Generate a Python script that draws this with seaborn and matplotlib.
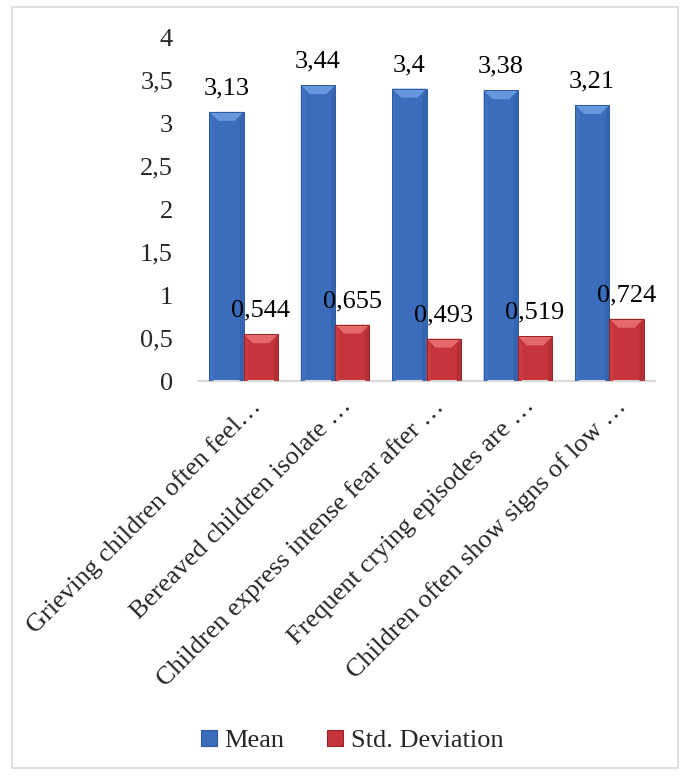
import matplotlib
matplotlib.use("Agg")
import matplotlib.pyplot as plt
import matplotlib.transforms as mtransforms
import seaborn as sns
import pandas as pd
from matplotlib.patches import Rectangle, Polygon

categories = [
    "Grieving children often feel…",
    "Bereaved children isolate …",
    "Children express intense fear after …",
    "Frequent crying episodes are …",
    "Children often show signs of low …",
]
mean_values = [3.13, 3.44, 3.4, 3.38, 3.21]
std_values = [0.544, 0.655, 0.493, 0.519, 0.724]
series_names = ["Mean", "Std. Deviation"]
y_ticks = [0, 0.5, 1, 1.5, 2, 2.5, 3, 3.5, 4]

df = pd.DataFrame({
    "category": categories * 2,
    "series": [series_names[0]] * len(categories) + [series_names[1]] * len(categories),
    "value": mean_values + std_values,
})

sns.set_theme(style="white")
plt.rcParams["font.family"] = ["Liberation Serif", "DejaVu Serif"]
FS = 19

fig = plt.figure(figsize=(6.83, 7.76), dpi=100)
ax = fig.add_axes([198 / 683, 1 - 381 / 776, (655 - 198) / 683, (381 - 37) / 776])

blue = "#3b6dbc"
red = "#c4343a"
sns.barplot(data=df, x="category", y="value", hue="series",
            palette=[blue, red], width=0.75, saturation=1, ax=ax,
            edgecolor="none", legend=True)

ax.set_ylim(0, 4)
ax.set_xlim(-0.5, len(categories) - 0.5)

# bevel effects derived from the drawn bars (pixel sizes converted to data units)
px_x = (len(categories)) / (655 - 198)
px_y = 4 / (381 - 37)
styles = {
    0: dict(edge="#2d5a9e", top="#6797dc", left="#4173c2", right="#3464b0"),
    1: dict(edge="#962528", top="#e5696b", left="#cc3c40", right="#b32f34"),
}
for i, container in enumerate(ax.containers):
    st = styles[i]
    for p in container.patches:
        x0, y0 = p.get_x(), p.get_y()
        w, h = p.get_width(), p.get_height()
        p.set_edgecolor("none")
        bx, by = 9 * px_x, 9 * px_y
        sx = 4 * px_x
        ax.add_patch(Polygon([(x0, y0), (x0 + sx, y0), (x0 + sx, y0 + h - by),
                              (x0, y0 + h)], closed=True, facecolor=st["left"],
                             edgecolor="none", zorder=3))
        ax.add_patch(Polygon([(x0 + w, y0), (x0 + w - sx, y0), (x0 + w - sx, y0 + h - by),
                              (x0 + w, y0 + h)], closed=True, facecolor=st["right"],
                             edgecolor="none", zorder=3))
        ax.add_patch(Polygon([(x0, y0 + h), (x0 + w, y0 + h),
                              (x0 + w - bx, y0 + h - by), (x0 + bx, y0 + h - by)],
                             closed=True, facecolor=st["top"], edgecolor="none", zorder=3))
        ax.add_patch(Rectangle((x0, y0), w, h, fill=False, edgecolor=st["edge"],
                               linewidth=0.7, zorder=4))

def fmt(v):
    s = f"{v:g}"
    return s.replace(".", ",")

for container, vals in zip(ax.containers, [mean_values, std_values]):
    ax.bar_label(container, labels=[fmt(v) for v in vals], padding=9,
                 fontsize=FS, color="black")

ax.set_yticks(y_ticks)
ax.set_yticklabels([fmt(t) for t in y_ticks], fontsize=FS)
ax.set_xticks(range(len(categories)))
ax.set_xticklabels(categories, rotation=45, ha="right", rotation_mode="anchor", fontsize=FS)
ax.tick_params(axis="y", length=0, pad=18)
ax.tick_params(axis="x", length=0, pad=10)
shift = mtransforms.ScaledTranslation(4 / 72, 0, fig.dpi_scale_trans)
for lab in ax.get_xticklabels():
    lab.set_transform(lab.get_transform() + shift)
ax.set_xlabel("")
ax.set_ylabel("")
for s in ["top", "right", "left"]:
    ax.spines[s].set_visible(False)
ax.spines["bottom"].set_color("#d9d9d9")
ax.spines["bottom"].set_linewidth(1.5)

handles, labels = ax.get_legend_handles_labels()
ax.get_legend().remove()
leg = fig.legend(handles, labels, loc="center", bbox_to_anchor=(352 / 683, 1 - 741 / 776),
                 ncol=2, frameon=False, fontsize=FS, handlelength=0.6, handleheight=0.6,
                 handletextpad=0.3, columnspacing=1.6)
for h, ec in zip(leg.legend_handles, ["#2d5a9e", "#962528"]):
    h.set_edgecolor(ec)
    h.set_linewidth(0.8)

fig.patches.append(Rectangle((12 / 683, 1 - 768 / 776), (678 - 12) / 683, (768 - 7) / 776,
                             transform=fig.transFigure, fill=False,
                             edgecolor="#d9d9d9", linewidth=1.2))

fig.savefig("out.png", dpi=100)
